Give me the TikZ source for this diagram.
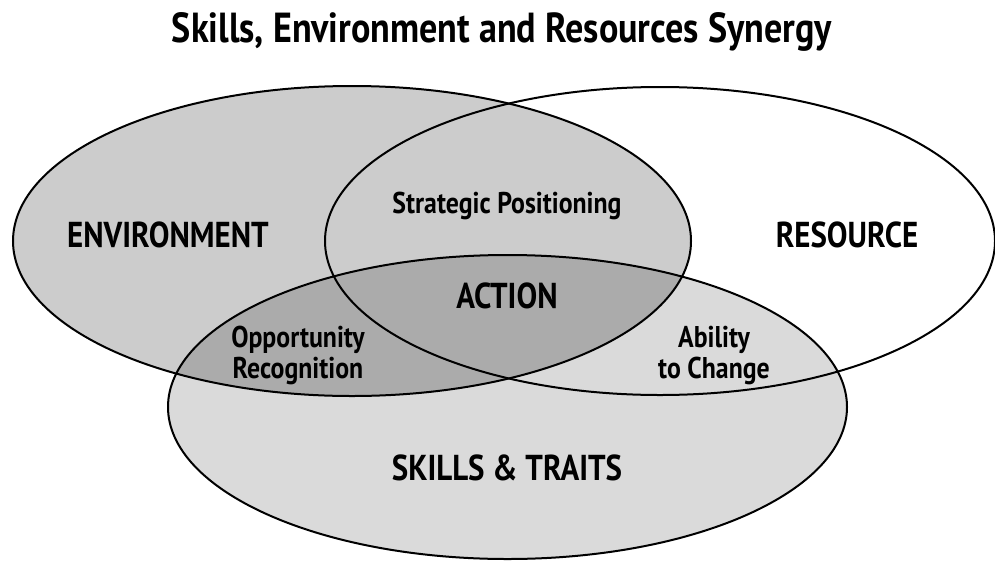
\documentclass[tikz,border=0pt]{standalone}
\usepackage{fontspec}
\setmainfont{PT Sans}[FakeStretch=0.86]
\definecolor{envfill}{gray}{0.80}
\definecolor{skillfill}{gray}{0.855}
\definecolor{overlapfill}{gray}{0.67}
\tikzset{
  set outline/.style={line width=2pt, draw=black},
  biglabel/.style={font=\bfseries\fontsize{36}{40}\selectfont, inner sep=0pt},
  smalllabel/.style={font=\bfseries\fontsize{30}{31}\selectfont, inner sep=0pt, align=center},
  titlelabel/.style={font=\bfseries\fontsize{42}{46}\selectfont, inner sep=0pt}
}
\begin{document}
\begin{tikzpicture}[x=1pt, y=-1pt]
  \useasboundingbox (0,0) rectangle (995,560);
  % the three sets
  \def\envpath{(352,241) ellipse [x radius=339pt, y radius=155pt]}
  \def\respath{(660,241) ellipse [x radius=335pt, y radius=154pt]}
  \def\skillpath{(507.5,407) ellipse [x radius=339.5pt, y radius=152pt]}
  \fill[white] \respath;
  \fill[envfill] \envpath;
  \fill[skillfill] \skillpath;
  \begin{scope}
    \clip \envpath;
    \fill[overlapfill] \skillpath;
  \end{scope}
  \draw[set outline] \envpath;
  \draw[set outline] \respath;
  \draw[set outline] \skillpath;
  % labels
  \node[titlelabel, anchor=base] (title) at (502,42) {Skills, Environment and Resources Synergy};
  \node[biglabel, anchor=base] (env) at (168,247) {ENVIRONMENT};
  \node[biglabel, anchor=base] (res) at (847,247) {RESOURCE};
  \node[biglabel, anchor=base] (act) at (507,308) {ACTION};
  \node[biglabel, anchor=base] (skl) at (507,480) {SKILLS \& TRAITS};
  \node[smalllabel, anchor=base] (strat) at (507,213) {Strategic Positioning};
  \node[smalllabel, anchor=base] (opp) at (298,378) {Opportunity\\Recognition};
  \node[smalllabel, anchor=base] (abl) at (714,378) {Ability\\to Change};
\end{tikzpicture}
\end{document}
